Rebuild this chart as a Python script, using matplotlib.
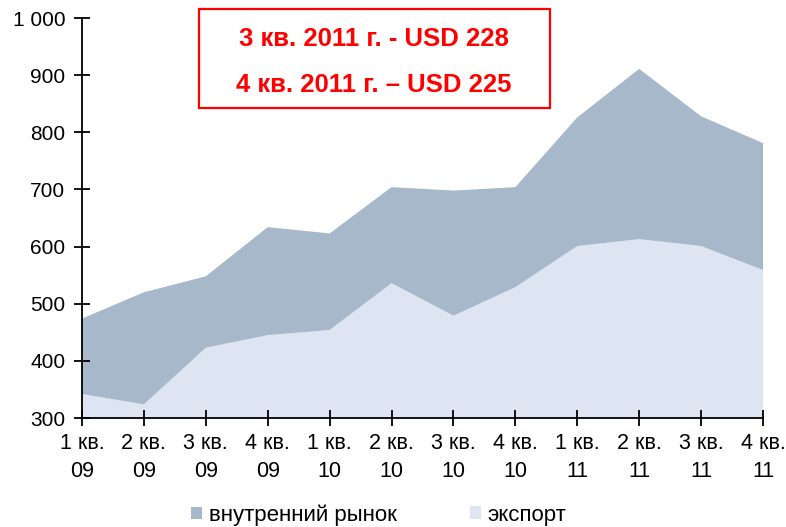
import matplotlib
matplotlib.use("Agg")
import matplotlib.pyplot as plt
from matplotlib.patches import Patch

quarters = ["1 кв.\n09", "2 кв.\n09", "3 кв.\n09", "4 кв.\n09",
            "1 кв.\n10", "2 кв.\n10", "3 кв.\n10", "4 кв.\n10",
            "1 кв.\n11", "2 кв.\n11", "3 кв.\n11", "4 кв.\n11"]
export = [342, 324, 423, 445, 454, 536, 479, 529, 601, 613, 601, 559]
domestic = [132, 196, 125, 189, 169, 168, 219, 175, 225, 298, 227, 222]
series_names = ["внутренний рынок", "экспорт"]
yticks = [300, 400, 500, 600, 700, 800, 900, 1000]
ytick_labels = ["300", "400", "500", "600", "700", "800", "900", "1 000"]
box_lines = ["3 кв. 2011 г. - USD 228", "4 кв. 2011 г. – USD 225"]

plt.rcParams['font.family'] = ['Liberation Sans', 'DejaVu Sans']

c_dom = "#A6B8CA"
c_exp = "#DCE5F1"

W, H = 786, 527
fig = plt.figure(figsize=(W/100, H/100), dpi=100)
ax = fig.add_axes([82/W, 1 - 418/H, (763-82)/W, (418-18)/H])

x = list(range(len(quarters)))
ax.stackplot(x, export, domestic, colors=[c_exp, c_dom], linewidth=0)

ax.set_xlim(0, len(quarters) - 1)
ax.set_ylim(300, 1000)
ax.set_yticks(yticks)
ax.set_yticklabels(ytick_labels)
ax.set_xticks(x)
ax.set_xticklabels(quarters, linespacing=1.4)

for s in ["top", "right"]:
    ax.spines[s].set_visible(False)
for s in ["left", "bottom"]:
    ax.spines[s].set_linewidth(1.3)
    ax.spines[s].set_zorder(5)
ax.tick_params(axis="both", direction="inout", length=12, width=1.3,
               labelsize=15, colors="black")
ax.tick_params(axis="y", pad=6)
ax.tick_params(axis="x", pad=5, labelsize=15.5)

# annotation box
fig.patches.append(plt.Rectangle((199/W, 1 - 108/H), 351/W, 99/H,
                                 transform=fig.transFigure, fill=False,
                                 edgecolor="#FF0000", linewidth=1.6))
fig.text(374/W, 1 - 46/H, box_lines[0], color="#FF0000", fontsize=18.5,
         fontweight="bold", ha="center", va="baseline")
fig.text(374/W, 1 - 92.5/H, box_lines[1], color="#FF0000", fontsize=18.5,
         fontweight="bold", ha="center", va="baseline")

legend_x = [191, 470]
for name, col, lx in zip(series_names, [c_dom, c_exp], legend_x):
    fig.legend([Patch(facecolor=col, edgecolor="none")], [name],
               loc="center left", bbox_to_anchor=(lx/W, 1 - 515/H),
               frameon=False, fontsize=16, borderpad=0, borderaxespad=0,
               handlelength=0.5, handleheight=0.5, handletextpad=0.3)

fig.savefig("out.png", dpi=100)
